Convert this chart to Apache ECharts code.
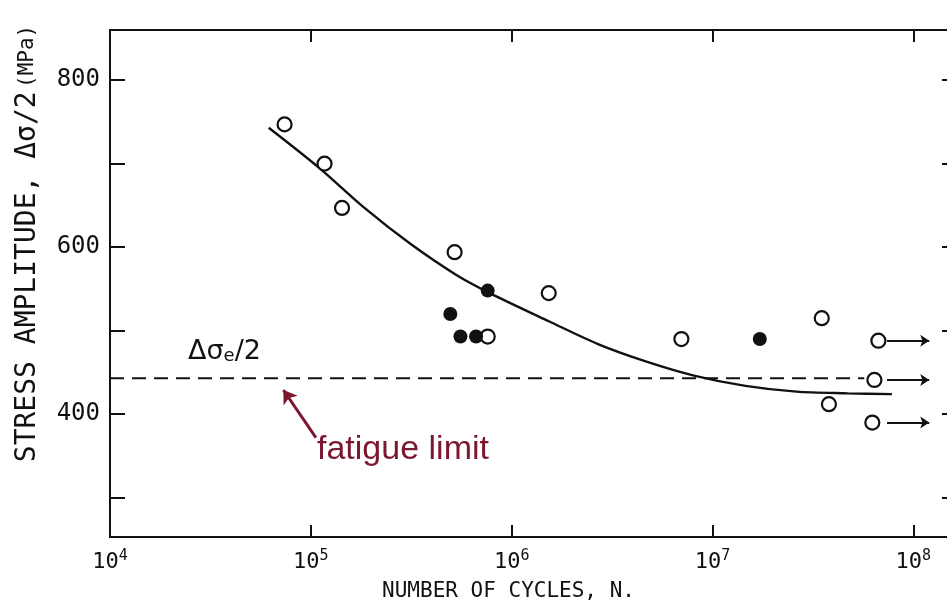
<!DOCTYPE html>
<html lang="en">
<head>
  <meta charset="UTF-8">
  <title>Stress amplitude vs number of cycles</title>
  <script src="https://cdn.jsdelivr.net/npm/echarts@6/dist/echarts.min.js"></script>
  <style>
    html, body, #main {
      margin: 0;
      padding: 0;
      width: 947px;
      height: 608px;
      background: #fff;
    }
  </style>
</head>
<body>
  <div id="main"></div>

  <script>
    // open circles (cycles, MPa)
    const openN = [7.4e4, 1.17e5, 1.43e5, 5.2e5, 7.6e5, 1.53e6, 7.0e6, 3.5e7, 3.8e7, 6.7e7, 6.4e7, 6.25e7];
    const openS = [747, 700, 647, 594, 493, 545, 490, 515, 412, 488, 441, 390];
    // filled circles
    const filledN = [4.95e5, 5.56e5, 6.65e5, 7.6e5, 1.72e7];
    const filledS = [520, 493, 493, 548, 490];
    // fitted S-N curve
    const curveN = [6.17e4, 1.10e5, 1.85e5, 3.13e5, 5.28e5, 7.78e5, 1.54e6, 2.69e6, 4.69e6, 8.18e6, 1.46e7, 2.62e7, 4.71e7, 7.82e7];
    const curveS = [743, 695, 647, 604, 567, 545, 511, 484, 463, 446, 434, 427, 425, 424];
    // fatigue limit line
    const limitS = 443;
    const limitN = [1e4, 5.7e7];
    // run-out arrows (did not fail)
    const runoutS = [488, 441, 390];
    const runoutN = [7.4e7, 1.2e8];
    // y tick values
    const yTicks = [300, 400, 500, 600, 700, 800];
    const yLabels = [400, 600, 800];

    const font = 'DejaVu Sans Mono';
    const ink = '#111';
    const red = '#7b1830';

    const isPow10 = v => Math.abs(Math.log10(v) - Math.round(Math.log10(v))) < 1e-6;

    const chart = echarts.init(document.getElementById('main'));

    const xBase = {
      type: 'log',
      logBase: 10,
      min: 1e4,
      max: 1.65e8,
      splitLine: { show: false },
      axisLine: { lineStyle: { color: ink, width: 2 } },
      axisTick: { inside: true, length: 12, lineStyle: { color: ink, width: 2 } },
      minorTick: { show: false }
    };
    const yBase = {
      type: 'value',
      min: 253,
      max: 860,
      splitLine: { show: false },
      axisLine: { show: true, lineStyle: { color: ink, width: 2 } },
      axisTick: { inside: true, length: 15, customValues: yTicks, lineStyle: { color: ink, width: 2 } }
    };

    const option = {
      animation: false,
      backgroundColor: '#fff',
      grid: { left: 110, right: -10, top: 30, bottom: 71, outerBoundsMode: 'none', containLabel: false },
      xAxis: [
        Object.assign({}, xBase, {
          position: 'bottom',
          name: 'NUMBER OF CYCLES, N.',
          nameLocation: 'middle',
          nameGap: 44,
          nameTextStyle: { fontFamily: font, fontSize: 21, color: ink, padding: [0, 50, 0, 0] },
          axisLabel: {
            margin: 12,
            color: ink,
            formatter: v => isPow10(v) ? '{b|10}{s|' + Math.round(Math.log10(v)) + '}' : '',
            rich: {
              b: { fontFamily: font, fontSize: 22, color: ink },
              s: { fontFamily: font, fontSize: 15, color: ink, padding: [0, 0, 11, 0] }
            }
          }
        }),
        Object.assign({}, xBase, {
          position: 'top',
          axisLabel: { show: false }
        })
      ],
      yAxis: [
        Object.assign({}, yBase, {
          position: 'left',
          name: '{m|STRESS AMPLITUDE, Δσ/2} {u|(MPa)}',
          nameLocation: 'middle',
          nameRotate: 90,
          nameGap: 68,
          nameTextStyle: {
            padding: [0, 0, 0, 80],
            rich: {
              m: { fontFamily: font, fontSize: 28, color: ink },
              u: { fontFamily: font, fontSize: 21, color: ink }
            }
          },
          axisLabel: {
            customValues: yLabels,
            margin: 10,
            fontFamily: font,
            fontSize: 24,
            color: ink
          }
        }),
        Object.assign({}, yBase, {
          position: 'right',
          axisLabel: { show: false }
        })
      ],
      graphic: [
        {
          type: 'text',
          left: 188,
          top: 338,
          style: {
            text: '{a|Δσ}{e|e}{a|/2}',
            rich: {
              a: { fontFamily: 'DejaVu Sans', fontSize: 27, fill: ink, padding: [0, 0, 10, 0] },
              e: { fontFamily: 'DejaVu Sans', fontSize: 18, fill: ink }
            }
          }
        },
        {
          type: 'text',
          left: 317,
          top: 433,
          style: {
            text: 'fatigue limit',
            fontFamily: 'Liberation Sans',
            fontSize: 34,
            fill: red
          }
        }
      ],
      series: [
        {
          name: 'curve',
          type: 'line',
          smooth: 0.3,
          showSymbol: false,
          lineStyle: { color: ink, width: 2.4 },
          data: curveN.map((n, i) => [n, curveS[i]]),
          z: 2
        },
        {
          name: 'fatigue limit',
          type: 'line',
          showSymbol: false,
          lineStyle: { color: ink, width: 2, type: [14, 8] },
          data: limitN.map(n => [n, limitS]),
          z: 2
        },
        {
          name: 'runout',
          type: 'lines',
          coordinateSystem: 'cartesian2d',
          symbol: ['none', 'arrow'],
          symbolSize: 9,
          lineStyle: { color: ink, width: 2, opacity: 1 },
          data: runoutS.map(s => ({ coords: [[runoutN[0], s], [runoutN[1], s]] })),
          z: 3
        },
        {
          name: 'pointer',
          type: 'lines',
          coordinateSystem: 'cartesian2d',
          symbol: ['none', 'arrow'],
          symbolSize: 13,
          lineStyle: { color: red, width: 3, opacity: 1 },
          data: [{ coords: [[1.06e5, 372], [7.3e4, 429]] }],
          z: 3
        },
        {
          name: 'open',
          type: 'scatter',
          symbol: 'circle',
          symbolSize: 14,
          itemStyle: { color: '#fff', borderColor: ink, borderWidth: 2.2, opacity: 1 },
          data: openN.map((n, i) => [n, openS[i]]),
          z: 5
        },
        {
          name: 'filled',
          type: 'scatter',
          symbol: 'circle',
          symbolSize: 14,
          itemStyle: { color: ink, opacity: 1 },
          data: filledN.map((n, i) => [n, filledS[i]]),
          z: 5
        }
      ]
    };

    chart.setOption(option);
  </script>
</body>
</html>
